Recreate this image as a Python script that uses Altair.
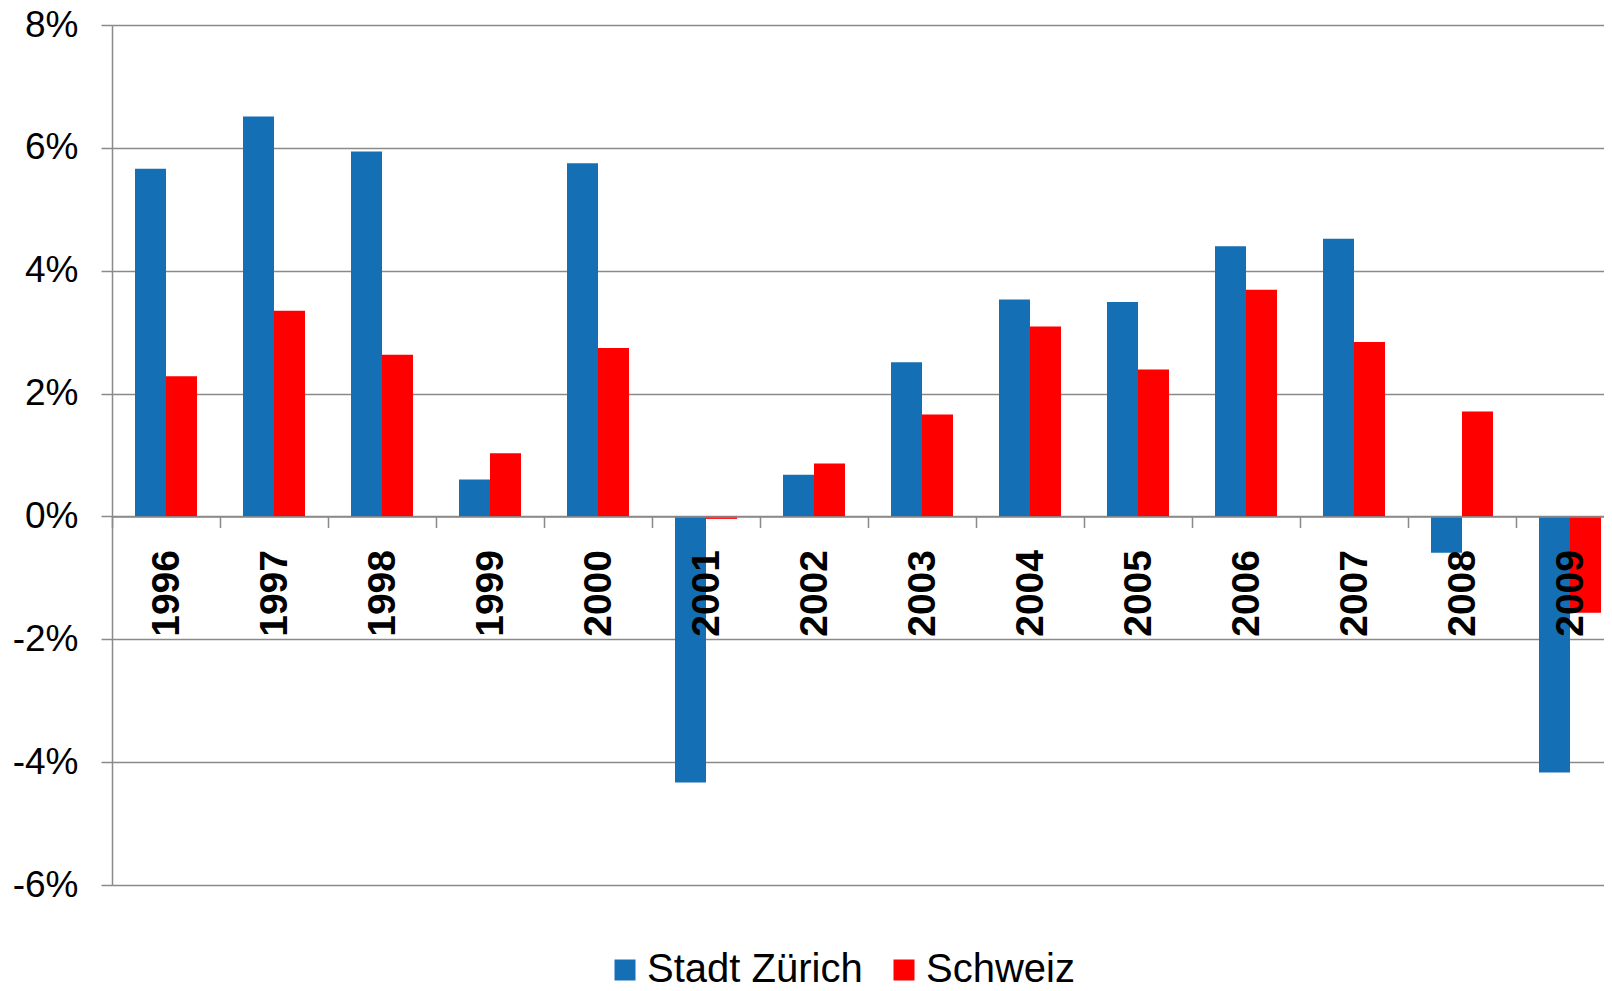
import altair as alt
import pandas as pd

years = ["1996", "1997", "1998", "1999", "2000", "2001", "2002",
         "2003", "2004", "2005", "2006", "2007", "2008", "2009"]
series = ["Stadt Zürich", "Schweiz"]
zuerich = [5.66, 6.51, 5.94, 0.60, 5.75, -4.33, 0.68, 2.51, 3.53, 3.49, 4.40, 4.52, -0.59, -4.17]
schweiz = [2.28, 3.35, 2.63, 1.03, 2.74, -0.04, 0.86, 1.66, 3.09, 2.39, 3.69, 2.84, 1.71, -1.57]
y_ticks = [-6, -4, -2, 0, 2, 4, 6, 8]
colors = ["#156FB5", "#FF0000"]

rows = []
for i, yr in enumerate(years):
    rows.append({"Jahr": yr, "Serie": series[0], "Wert": zuerich[i]})
    rows.append({"Jahr": yr, "Serie": series[1], "Wert": schweiz[i]})
df = pd.DataFrame(rows)

GRAY = "#8a8a8a"
FONT = "Liberation Sans"

chart = alt.Chart(df).mark_bar().encode(
    x=alt.X(
        "Jahr:N",
        sort=years,
        scale=alt.Scale(range=[0, 1512], paddingInner=0, paddingOuter=0),
        axis=alt.Axis(
            title=None,
            labelAngle=-90,
            labelFontSize=39,
            labelFontWeight="bold",
            labelFont=FONT,
            labelColor="black",
            labelPadding=22,
            labelOverlap=False,
            labelBound=False,
            tickBand="extent",
            tickSize=11,
            tickColor=GRAY,
            tickWidth=1.5,
            domainColor=GRAY,
            domainWidth=1.5,
            grid=False,
            offset=-368.5,
            zindex=1,
        ),
    ),
    xOffset=alt.XOffset(
        "Serie:N", sort=series,
        scale=alt.Scale(paddingInner=0, paddingOuter=0.742),
    ),
    y=alt.Y(
        "Wert:Q",
        scale=alt.Scale(domain=[-6, 8], nice=False, zero=False),
        axis=alt.Axis(
            title=None,
            values=y_ticks,
            labelExpr="datum.value + '%'",
            labelFontSize=37,
            labelFont=FONT,
            labelColor="black",
            labelPadding=23,
            tickSize=11,
            tickColor=GRAY,
            tickWidth=1.5,
            domainColor=GRAY,
            domainWidth=1.5,
            gridColor=GRAY,
            gridWidth=1.5,
        ),
    ),
    color=alt.Color(
        "Serie:N",
        sort=series,
        scale=alt.Scale(domain=series, range=colors),
        legend=alt.Legend(
            title=None,
            orient="none",
            direction="horizontal",
            legendX=493,
            legendY=925,
            symbolType="square",
            symbolSize=441,
            symbolStrokeWidth=0,
            labelFontSize=40,
            labelFont=FONT,
            labelColor="black",
            labelOffset=2,
            columnPadding=21,
            padding=0,
            labelLimit=0,
        ),
    ),
).properties(
    width=1492,
    height=860,
    autosize=alt.AutoSizeParams(type="none"),
    padding={"left": 104, "top": 17, "right": 0, "bottom": 98},
).configure_view(stroke=None)

chart.save("out.html", embed_options={"renderer": "svg", "actions": False})
